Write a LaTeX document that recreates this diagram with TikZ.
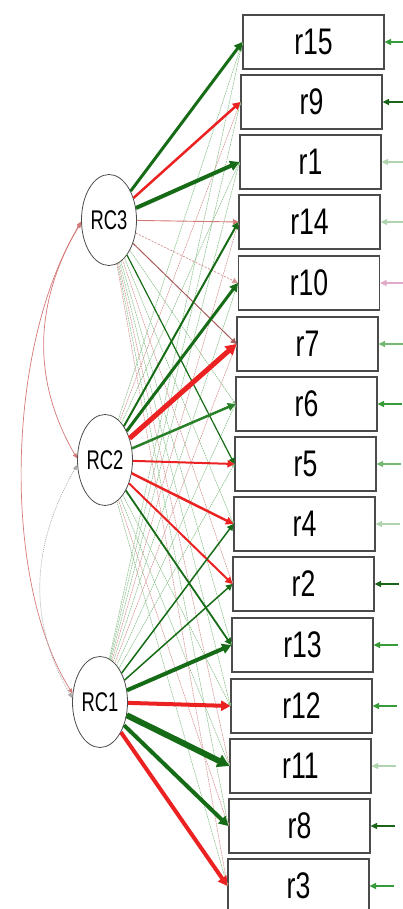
\documentclass[tikz,border=0pt]{standalone}
\usepackage{fontspec}
\usepackage{graphicx}
\setmainfont{Liberation Sans}
\usetikzlibrary{arrows.meta,shapes.geometric,calc}

% palette
\definecolor{dgreen}{RGB}{22,108,22}
\definecolor{mgreen}{RGB}{40,128,40}
\definecolor{sred}{RGB}{236,34,34}
\definecolor{pinkred}{RGB}{212,120,120}
\definecolor{brownred}{RGB}{168,92,92}
\definecolor{fgreen}{RGB}{140,192,140}
\definecolor{fred}{RGB}{214,150,150}
\definecolor{fgrey}{RGB}{170,170,170}
\definecolor{boxline}{RGB}{75,75,75}
% residual arrow shades
\definecolor{res1}{RGB}{25,100,25}
\definecolor{res2}{RGB}{55,155,55}
\definecolor{res3}{RGB}{115,185,115}
\definecolor{res4}{RGB}{175,212,175}
\definecolor{res5}{RGB}{225,170,200}

\newcommand\obstext[1]{\scalebox{0.72}[1]{\fontsize{37}{37}\selectfont #1}}
\newcommand\lattext[1]{\scalebox{0.68}[1]{\fontsize{27}{27}\selectfont #1}}

\begin{document}
\begin{tikzpicture}[x=1pt,y=-1pt,
  obs/.style={draw=boxline, line width=1.2pt, fill=white, minimum width=141pt,
    minimum height=54pt, inner sep=0pt},
  lat/.style={ellipse, draw=black!70, line width=0.8pt, fill=white,
    minimum width=55pt, minimum height=91pt, inner sep=0pt},
  load/.style={-{Triangle[length=4.5pt 1.2, width=4.5pt 1.4]}},
  faint/.style={line width=0.55pt, dash pattern=on 1.5pt off 1pt,
    -{Triangle[length=3pt, width=3pt]}},
  res/.style={line width=1.3pt, -{Triangle[length=6.5pt, width=6pt]}},
  cov/.style={line width=0.7pt, draw=pinkred,
    {Triangle[length=5pt, width=4pt]}-{Triangle[length=5pt, width=4pt]}},
]
\useasboundingbox (0,0) rectangle (402,909);

% observed variables
\node[obs] (r15) at (313.5, 42) {\obstext{r15}};
\node[obs] (r9)  at (311.5,102) {\obstext{r9}};
\node[obs] (r1)  at (310.5,162) {\obstext{r1}};
\node[obs] (r14) at (309.5,222) {\obstext{r14}};
\node[obs] (r10) at (309.0,283) {\obstext{r10}};
\node[obs] (r7)  at (307.5,344) {\obstext{r7}};
\node[obs] (r6)  at (306.5,404) {\obstext{r6}};
\node[obs] (r5)  at (305.5,464) {\obstext{r5}};
\node[obs] (r4)  at (304.5,524) {\obstext{r4}};
\node[obs] (r2)  at (303.5,584) {\obstext{r2}};
\node[obs] (r13) at (302.5,645) {\obstext{r13}};
\node[obs] (r12) at (301.5,706) {\obstext{r12}};
\node[obs] (r11) at (300.5,766) {\obstext{r11}};
\node[obs] (r8)  at (299.5,826) {\obstext{r8}};
\node[obs] (r3)  at (298.5,886) {\obstext{r3}};

% latent factors
\node[lat] (RC3) at (109,220) {\lattext{RC3}};
\node[lat] (RC2) at (105,460) {\lattext{RC2}};
\node[lat] (RC1) at (100,702) {\lattext{RC1}};

% weak loadings
\foreach \t/\c in {r6/fgreen, r4/fgreen, r2/fred, r13/fgreen, r12/fgreen,
                   r11/fred, r8/fgreen, r3/fred}
  \draw[faint, draw=\c, fill=\c] (RC3) -- (\t.west);
\foreach \t/\c in {r15/fgreen, r9/fred, r1/fgreen, r12/fgreen, r11/fgreen,
                   r8/fred, r3/fgreen}
  \draw[faint, draw=\c, fill=\c] (RC2) -- (\t.west);
\foreach \t/\c in {r15/fgreen, r9/fgreen, r1/fgreen, r14/fred, r10/fgreen,
                   r7/fred, r6/fgreen, r5/fgreen}
  \draw[faint, draw=\c, fill=\c] (RC1) -- (\t.west);

% factor covariances
\draw[cov] (RC3.183) to[out=240, in=120] (RC2.177);
\draw[cov] (RC3.186) to[out=238, in=122, looseness=0.75] (RC1.163);
\draw[cov, draw=fgrey, dash pattern=on 1pt off 1pt] (RC2.190) to[out=240, in=120] (RC1.172);

% loadings of RC3
\draw[load, dgreen, line width=3pt]   (RC3) -- (r15.west);
\draw[load, sred, line width=2.5pt]   (RC3) -- (r9.west);
\draw[load, dgreen, line width=4pt]   (RC3) -- (r1.west);
\draw[load, pinkred, line width=0.9pt] (RC3) -- (r14.west);
\draw[load, fred, line width=0.8pt, dash pattern=on 2pt off 1.5pt] (RC3) -- (r10.west);
\draw[load, brownred, line width=1pt] (RC3) -- (r7.west);
\draw[load, dgreen, line width=1.2pt] (RC3) -- (r5.west);

% loadings of RC2
\draw[load, dgreen, line width=2pt]   (RC2) -- (r14.west);
\draw[load, dgreen, line width=3pt]   (RC2) -- (r10.west);
\draw[load, sred, line width=5pt]     (RC2) -- (r7.west);
\draw[load, mgreen, line width=2.5pt] (RC2) -- (r6.west);
\draw[load, sred, line width=2pt]     (RC2) -- (r5.west);
\draw[load, sred, line width=2.5pt]   (RC2) -- (r4.west);
\draw[load, sred, line width=2pt]     (RC2) -- (r2.west);
\draw[load, dgreen, line width=1.8pt] (RC2) -- (r13.west);

% loadings of RC1
\draw[load, dgreen, line width=1.5pt] (RC1) -- (r4.west);
\draw[load, dgreen, line width=1.5pt] (RC1) -- (r2.west);
\draw[load, dgreen, line width=4pt]   (RC1) -- (r13.west);
\draw[load, sred, line width=4pt]     (RC1) -- (r12.west);
\draw[load, dgreen, line width=6pt]   (RC1) -- (r11.west);
\draw[load, dgreen, line width=4pt]   (RC1) -- (r8.west);
\draw[load, sred, line width=4pt]     (RC1) -- (r3.west);

% residual variances
\foreach \t/\c in {r15/res2, r9/res1, r1/res4, r14/res4, r10/res5, r7/res3,
                   r6/res2, r5/res3, r4/res4, r2/res1, r13/res2, r12/res2,
                   r11/res4, r8/res1, r3/res2} {
  \coordinate (e-\t) at ([xshift=24pt]\t.east);
  \draw[res, draw=\c, fill=\c] (e-\t) -- (\t.east);
}
\end{tikzpicture}
\end{document}
